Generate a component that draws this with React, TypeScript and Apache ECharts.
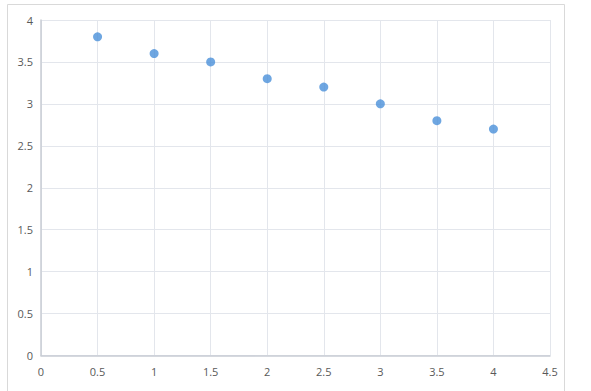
import React, { useEffect, useRef } from "react";
import * as echarts from "echarts";

const xValues = [0.5, 1, 1.5, 2, 2.5, 3, 3.5, 4];
const yValues = [3.8, 3.6, 3.5, 3.3, 3.2, 3.0, 2.8, 2.7];

export default function App() {
  const ref = useRef<HTMLDivElement>(null);
  useEffect(() => {
    if (!ref.current) return;
    const chart = echarts.init(ref.current, undefined, { renderer: "svg" });
    const labelStyle = {
      color: "#595959",
      fontSize: 11,
      fontFamily: "Open Sans, Liberation Sans, sans-serif",
    };
    chart.setOption({
      animation: false,
      backgroundColor: "#ffffff",
      graphic: [
        {
          type: "rect",
          shape: { x: 7.5, y: 4.5, width: 557, height: 400 },
          style: { fill: "none", stroke: "#d9d9d9", lineWidth: 1 },
          silent: true,
          z: -10,
        },
      ],
      grid: { left: 41, right: 41, top: 20, bottom: 35.5, containLabel: false },
      xAxis: {
        type: "value",
        min: 0,
        max: 4.5,
        interval: 0.5,
        axisLine: { show: true, lineStyle: { color: "#c8ccd4", width: 1.5 } },
        axisTick: { show: false },
        axisLabel: { ...labelStyle, margin: 10, formatter: (v: number) => String(v) },
        splitLine: { show: true, lineStyle: { color: "#e3e6ec", width: 1 } },
      },
      yAxis: {
        type: "value",
        min: 0,
        max: 4,
        interval: 0.5,
        axisLine: { show: true, lineStyle: { color: "#c8ccd4", width: 1.5 } },
        axisTick: { show: false },
        axisLabel: { ...labelStyle, margin: 8, formatter: (v: number) => String(v) },
        splitLine: { show: true, lineStyle: { color: "#e3e6ec", width: 1 } },
      },
      series: [
        {
          type: "scatter",
          data: xValues.map((x, i) => [x, yValues[i]]),
          symbol: "circle",
          symbolSize: 9,
          itemStyle: { color: "#4a90d9" },
        },
      ],
    });
    return () => chart.dispose();
  }, []);
  return (
    <div
      ref={ref}
      style={{ position: "fixed", left: 0, top: 0, width: 591, height: 391 }}
    />
  );
}
